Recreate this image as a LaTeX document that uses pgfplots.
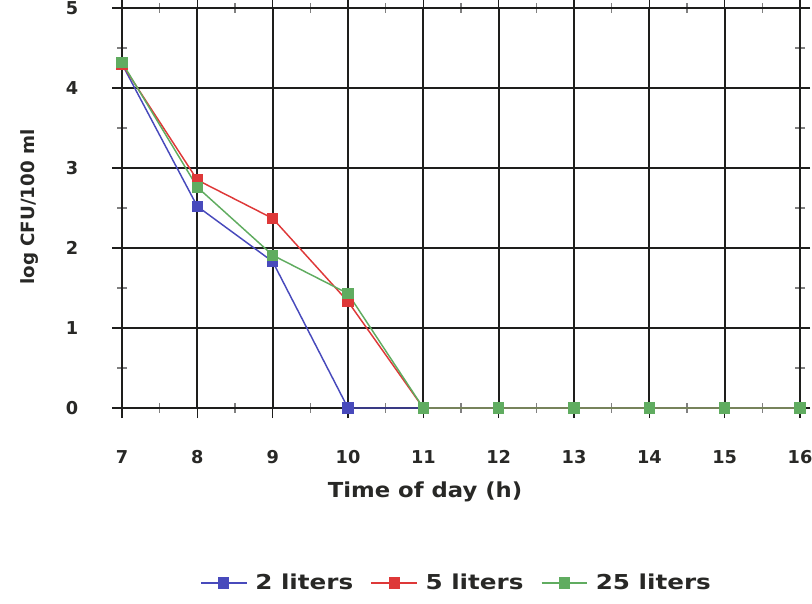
\documentclass[border=0pt]{standalone}
\usepackage{fontspec}
\setmainfont{DejaVu Sans}
\newfontfamily\wideheavy[FakeStretch=1.1]{DejaVu Sans}
\newfontfamily\widerheavy[FakeStretch=1.2]{DejaVu Sans}
\usepackage{pgfplots}
\pgfplotsset{compat=1.18}
\definecolor{serblue}{RGB}{72,74,188}
\definecolor{serred}{RGB}{222,56,56}
\definecolor{sergreen}{RGB}{96,172,96}
\definecolor{gridc}{RGB}{30,30,28}
\definecolor{textc}{RGB}{40,40,38}
\begin{document}
\begin{tikzpicture}
\begin{axis}[
  name=ax,
  scale only axis,
  width=508.5pt, height=300pt,
  xmin=7, xmax=16, ymin=0, ymax=5,
  xtick={7,...,16}, ytick={0,...,5},
  minor x tick num=1, minor y tick num=1,
  grid=major,
  major grid style={gridc, line width=1.5pt},
  axis line style={gridc, line width=1.6pt},
  tick align=center,
  major tick length=15pt, minor tick length=7pt,
  tick style={gridc, line width=1pt},
  minor tick style={gray, line width=0.8pt},
  /pgf/number format/assume math mode=true,
  ticklabel style={font=\bfseries\fontsize{13.3}{15}\selectfont, text=textc},
  xticklabel style={anchor=center, yshift=-29pt},
  yticklabel style={anchor=center, xshift=-30pt},
  xlabel={Time of day (h)},
  ylabel={log CFU/100 ml},
  xlabel style={at={(axis description cs:0.447,-0.21)}, anchor=center,
    font=\wideheavy\bfseries\fontsize{15.5}{18}\selectfont, text=textc},
  ylabel style={at={(axis description cs:-0.1357,0.5025)}, anchor=center,
    font=\bfseries\fontsize{13.7}{16}\selectfont, text=textc},
  clip=false,
  every axis plot/.append style={line width=1.1pt, mark=square*, mark size=3.6pt},
  legend columns=3,
  legend style={draw=none, fill=none, at={(axis description cs:0.494,-0.4375)}, anchor=center,
    font=\widerheavy\bfseries\fontsize{15.4}{18}\selectfont, text=textc,
    /tikz/every even column/.append style={column sep=11pt},
    /tikz/every odd column/.append style={column sep=4pt}},
  legend image code/.code={\draw[mark repeat=2, mark phase=2] plot coordinates {(0cm,0cm) (0.6cm,0cm) (1.2cm,0cm)};},
]
\addplot[serblue, mark options={fill=serblue}] coordinates {
  (7,4.30) (8,2.52) (9,1.83) (10,0) (11,0) (12,0) (13,0) (14,0) (15,0) (16,0)};
\addlegendentry{2 liters}
\addplot[serred, mark options={fill=serred}] coordinates {
  (7,4.30) (8,2.85) (9,2.37) (10,1.33) (11,0) (12,0) (13,0) (14,0) (15,0) (16,0)};
\addlegendentry{5 liters}
\addplot[sergreen, mark options={fill=sergreen}] coordinates {
  (7,4.32) (8,2.76) (9,1.91) (10,1.43) (11,0) (12,0) (13,0) (14,0) (15,0) (16,0)};
\addlegendentry{25 liters}
\end{axis}
\pgfresetboundingbox
\path[use as bounding box] ([shift={(-91.5pt,-146.25pt)}]ax.south west) rectangle ([shift={(9pt,6pt)}]ax.north east);
\end{tikzpicture}
\end{document}
